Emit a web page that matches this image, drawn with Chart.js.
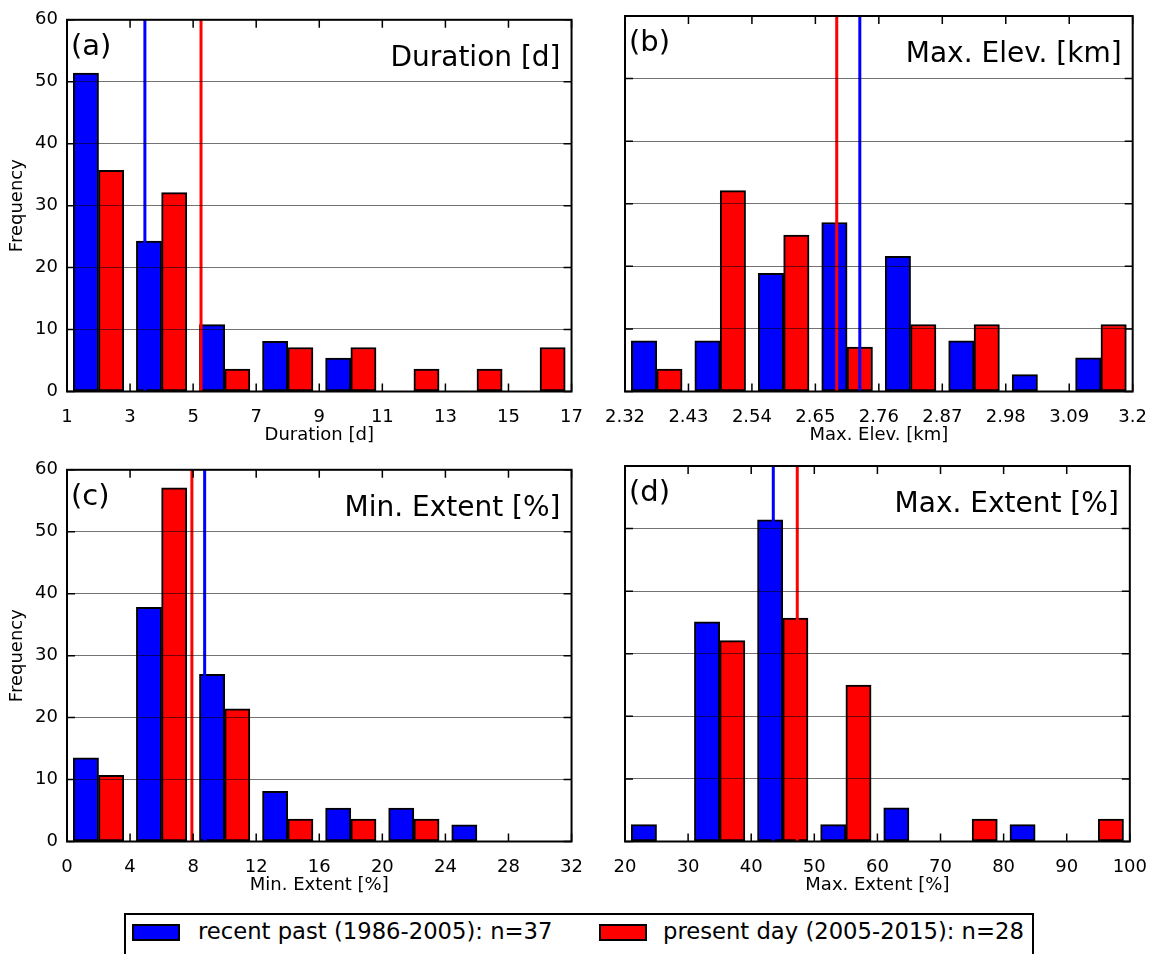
<!DOCTYPE html>
<html>
<head>
<meta charset="utf-8">
<script src="https://cdn.jsdelivr.net/npm/chart.js@4.4.1/dist/chart.umd.min.js"></script>
<style>
    body { margin: 0; width: 1154px; height: 954px; overflow: hidden; background: #fff; position: relative; font-family: 'DejaVu Sans', sans-serif; }
    canvas { position: absolute; }
    #legend { position: absolute; left: 124px; top: 913px; width: 910px; height: 50px; border: 2px solid #000; box-sizing: border-box; }
    #legend .patch { position: absolute; top: 9px; width: 48px; height: 17px; border: 2px solid #000; box-sizing: border-box; }
    #legend .label { position: absolute; top: 3px; font-size: 22.7px; white-space: nowrap; color: #000; }
</style>
</head>
<body>
<canvas id="chartDuration" width="590" height="446" style="left:0;top:0"></canvas>
<canvas id="chartElev" width="564" height="446" style="left:590px;top:0"></canvas>
<canvas id="chartMinExtent" width="590" height="446" style="left:0;top:450px"></canvas>
<canvas id="chartMaxExtent" width="564" height="446" style="left:590px;top:450px"></canvas>
<div id="legend">
    <span class="patch" style="left:6px;background:#0000ff"></span>
    <span class="label" style="left:72px">recent past (1986-2005): n=37</span>
    <span class="patch" style="left:473px;background:#ff0000"></span>
    <span class="label" style="left:537px">present day (2005-2015): n=28</span>
</div>
<script>
// bin edges (also the tick labels) and frequencies [%] per panel
const durationEdges = [1, 3, 5, 7, 9, 11, 13, 15, 17];
const durationRecent = [51.4, 24.3, 10.8, 8.1, 5.4, 0, 0, 0];
const durationPresent = [35.7, 32.1, 3.6, 7.1, 7.1, 3.6, 3.6, 7.1];
const durationMeanRecent = 3.47;
const durationMeanPresent = 5.25;

const elevEdges = [2.32, 2.43, 2.54, 2.65, 2.76, 2.87, 2.98, 3.09, 3.2];
const elevTickLabels = ['2.32', '2.43', '2.54', '2.65', '2.76', '2.87', '2.98', '3.09', '3.2'];
const elevRecent = [8.1, 8.1, 18.9, 27.0, 21.6, 8.1, 2.7, 5.4];
const elevPresent = [3.6, 32.1, 25.0, 7.1, 10.7, 10.7, 0, 10.7];
const elevMeanRecent = 2.727;
const elevMeanPresent = 2.687;

const minExtEdges = [0, 4, 8, 12, 16, 20, 24, 28, 32];
const minExtRecent = [13.5, 37.8, 27.0, 8.1, 5.4, 5.4, 2.7, 0];
const minExtPresent = [10.7, 57.1, 21.4, 3.6, 3.6, 3.6, 0, 0];
const minExtMeanRecent = 8.73;
const minExtMeanPresent = 7.92;

const maxExtEdges = [20, 30, 40, 50, 60, 70, 80, 90, 100];
const maxExtRecent = [2.7, 35.1, 51.4, 2.7, 5.4, 0, 2.7, 0];
const maxExtPresent = [0, 32.1, 35.7, 25.0, 0, 3.6, 0, 3.6];
const maxExtMeanRecent = 43.5;
const maxExtMeanPresent = 47.3;

const BLUE = '#0000ff';
const RED = '#ff0000';

Chart.defaults.font.family = "'DejaVu Sans', sans-serif";
Chart.defaults.color = '#000';

// frame, inward ticks and the in-panel texts (matplotlib classic look)
const framePlugin = {
    id: 'frame',
    afterDraw(chart, args, opts) {
        const {ctx, chartArea: a, scales} = chart;
        ctx.save();
        ctx.strokeStyle = '#000';
        ctx.lineWidth = 1.5;
        ctx.beginPath();
        scales.x.ticks.forEach(t => {
            const px = scales.x.getPixelForValue(t.value);
            ctx.moveTo(px, a.bottom); ctx.lineTo(px, a.bottom - 8);
            ctx.moveTo(px, a.top); ctx.lineTo(px, a.top + 8);
        });
        scales.y.ticks.forEach(t => {
            const py = scales.y.getPixelForValue(t.value);
            ctx.moveTo(a.left, py); ctx.lineTo(a.left + 8, py);
            ctx.moveTo(a.right, py); ctx.lineTo(a.right - 8, py);
        });
        ctx.stroke();
        ctx.lineWidth = 2;
        ctx.strokeRect(a.left, a.top, a.right - a.left, a.bottom - a.top);

        ctx.fillStyle = '#000';
        ctx.textBaseline = 'alphabetic';
        ctx.textAlign = 'left';
        ctx.font = "29px 'DejaVu Sans'";
        ctx.fillText(opts.letter, a.left + 4, a.top + 35);
        ctx.textAlign = 'right';
        ctx.font = "28px 'DejaVu Sans'";
        ctx.fillText(opts.title, a.right - 11, a.top + 46);
        ctx.restore();
    }
};

function makePanel(id, edges, recent, present, meanRecent, meanPresent, cfg) {
    const w = edges[1] - edges[0];
    const bins = edges.slice(0, -1);
    const ctx = document.getElementById(id);
    const showY = cfg.showY;
    const barStyle = {
        type: 'bar',
        grouped: false,
        barPercentage: 1,
        categoryPercentage: 1,
        borderColor: '#000',
        borderWidth: c => (c.raw && c.raw.y > 0 ? 2 : 0),
        borderSkipped: false,
        order: 1
    };
    return new Chart(ctx, {
        data: {
            datasets: [
                Object.assign({
                    label: 'recent past (1986-2005): n=37',
                    data: bins.map((b, i) => ({x: b + 0.3 * w, y: recent[i]})),
                    backgroundColor: BLUE
                }, barStyle),
                Object.assign({
                    label: 'present day (2005-2015): n=28',
                    data: bins.map((b, i) => ({x: b + 0.7 * w, y: present[i]})),
                    backgroundColor: RED
                }, barStyle),
                {
                    type: 'line',
                    label: 'mean recent',
                    data: [{x: meanRecent, y: 0}, {x: meanRecent, y: 60}],
                    borderColor: BLUE,
                    borderWidth: 3,
                    pointRadius: 0,
                    order: 0
                },
                {
                    type: 'line',
                    label: 'mean present',
                    data: [{x: meanPresent, y: 0}, {x: meanPresent, y: 60}],
                    borderColor: RED,
                    borderWidth: 3,
                    pointRadius: 0,
                    order: 0
                }
            ]
        },
        options: {
            responsive: false,
            animation: false,
            layout: {padding: {top: 16, right: cfg.padRight, left: 0, bottom: 0}},
            plugins: {
                legend: {display: false},
                tooltip: {enabled: false},
                frame: {letter: cfg.letter, title: cfg.title}
            },
            scales: {
                x: {
                    type: 'linear',
                    offset: false,
                    min: edges[0],
                    max: edges[edges.length - 1],
                    afterBuildTicks: s => { s.ticks = edges.map(v => ({value: v})); },
                    afterFit: s => { s.height = 54.5; },
                    grid: {display: false, offset: false},
                    border: {display: false},
                    ticks: {
                        autoSkip: false,
                        maxRotation: 0,
                        padding: 7,
                        font: {size: 18},
                        callback: (v, i) => (cfg.tickLabels ? cfg.tickLabels[i] : String(v))
                    },
                    title: {display: true, text: cfg.title, font: {size: 18}, padding: 0}
                },
                y: {
                    min: 0,
                    max: 60,
                    afterFit: s => { s.width = cfg.yWidth; },
                    grid: {color: 'rgba(0,0,0,0.55)', lineWidth: 1, drawTicks: false, z: 1},
                    border: {display: false},
                    ticks: {display: showY, stepSize: 10, padding: 9, font: {size: 18}},
                    title: {display: showY, text: 'Frequency', font: {size: 18}, padding: {top: 7, bottom: 0}}
                }
            }
        },
        plugins: [framePlugin]
    });
}

makePanel('chartDuration', durationEdges, durationRecent, durationPresent, durationMeanRecent, durationMeanPresent,
    {letter: '(a)', title: 'Duration [d]', showY: true, yWidth: 67, padRight: 15});
makePanel('chartElev', elevEdges, elevRecent, elevPresent, elevMeanRecent, elevMeanPresent,
    {letter: '(b)', title: 'Max. Elev. [km]', showY: false, yWidth: 35, padRight: 20, tickLabels: elevTickLabels});
makePanel('chartMinExtent', minExtEdges, minExtRecent, minExtPresent, minExtMeanRecent, minExtMeanPresent,
    {letter: '(c)', title: 'Min. Extent [%]', showY: true, yWidth: 67, padRight: 15});
makePanel('chartMaxExtent', maxExtEdges, maxExtRecent, maxExtPresent, maxExtMeanRecent, maxExtMeanPresent,
    {letter: '(d)', title: 'Max. Extent [%]', showY: false, yWidth: 35, padRight: 20});
</script>
</body>
</html>
